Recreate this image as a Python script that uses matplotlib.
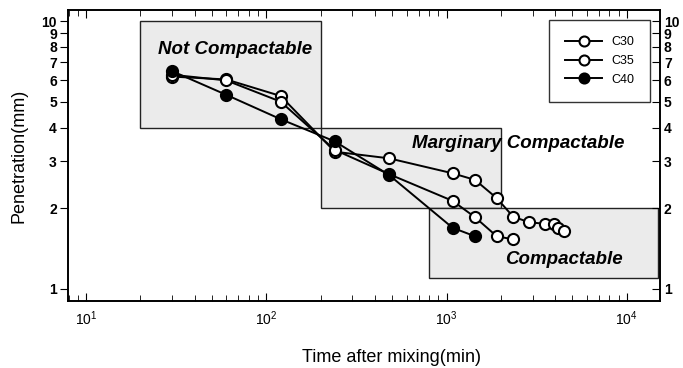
import numpy as np
import matplotlib
matplotlib.use('Agg')
import matplotlib.pyplot as plt
from matplotlib.patches import Rectangle
from matplotlib.ticker import FixedLocator, LogLocator, NullFormatter

plt.rcParams['font.family'] = ['Liberation Sans', 'DejaVu Sans']

# data
t_c30 = [30, 60, 120, 240, 480, 1080, 1440, 1900, 2340, 2880, 3500, 3950, 4150, 4500]
p_c30 = [6.2, 6.05, 5.25, 3.25, 3.07, 2.7, 2.55, 2.18, 1.86, 1.77, 1.75, 1.74, 1.69, 1.65]
t_c35 = [30, 60, 120, 240, 480, 1080, 1440, 1900, 2340]
p_c35 = [6.3, 6.0, 5.0, 3.3, 2.68, 2.13, 1.85, 1.57, 1.53]
t_c40 = [30, 60, 120, 240, 480, 1080, 1440]
p_c40 = [6.5, 5.3, 4.3, 3.55, 2.66, 1.69, 1.57]

# zones: (t0, t1, p0, p1)
zones = [(20, 200, 4, 10), (200, 2000, 2, 4), (800, 15000, 1.1, 2)]
zone_labels = ['Not Compactable', 'Marginary Compactable', 'Compactable']
label_pos = [(67, 7.8), (2500, 3.5), (4500, 1.29)]
yt = [1, 2, 3, 4, 5, 6, 7, 8, 9, 10]

fig = plt.figure(figsize=(6.83, 3.68), dpi=100)
ax = fig.add_axes([0.0996, 0.182, 0.8664, 0.791])

for (t0, t1, p0, p1) in zones:
    ax.add_patch(Rectangle((t0, p0), t1 - t0, p1 - p0, facecolor='#ebebeb',
                           edgecolor='#222222', lw=1.0, zorder=1))
for txt, (tx, ty) in zip(zone_labels, label_pos):
    ax.text(tx, ty, txt, ha='center', va='center', fontsize=13.5,
            fontweight='bold', fontstyle='italic', zorder=5)

mk = dict(color='black', lw=1.4, markersize=8, markeredgewidth=1.5, zorder=3)
ax.plot(t_c30, p_c30, 'o-', markerfacecolor='white', label='C30', **mk)
ax.plot(t_c35, p_c35, 'o-', markerfacecolor='white', label='C35', **mk)
ax.plot(t_c40, p_c40, 'o-', markerfacecolor='black', label='C40', **mk)

ax.set_xscale('log')
ax.set_yscale('log')
ax.set_xlim(7.94, 15250)
ax.set_ylim(0.9, 11)

ax.yaxis.set_major_locator(FixedLocator(yt))
ax.yaxis.set_minor_locator(FixedLocator([]))
ax.set_yticks(yt)
ax.set_yticklabels([str(v) for v in yt])
ax.tick_params(axis='y', which='major', direction='out', length=6, labelsize=10, pad=2)
for lab in ax.get_yticklabels():
    lab.set_fontweight('bold')

# right hand axis, ticks pointing in
ax2 = ax.twinx()
ax2.set_yscale('log')
ax2.set_ylim(ax.get_ylim())
ax2.yaxis.set_major_locator(FixedLocator(yt))
ax2.yaxis.set_minor_locator(FixedLocator([]))
ax2.set_yticks(yt)
ax2.set_yticklabels([str(v) for v in yt])
ax2.tick_params(axis='y', which='major', direction='in', length=6, labelsize=10, pad=3)
for lab in ax2.get_yticklabels():
    lab.set_fontweight('bold')

ax.xaxis.set_major_locator(LogLocator(base=10))
ax.xaxis.set_minor_locator(LogLocator(base=10, subs=np.arange(2, 10)))
ax.xaxis.set_minor_formatter(NullFormatter())
ax.tick_params(axis='x', which='both', direction='in', top=True, labelsize=10, pad=6)
ax.tick_params(axis='x', which='major', length=6)
ax.tick_params(axis='x', which='minor', length=4)

for a in (ax, ax2):
    for s in a.spines.values():
        s.set_linewidth(1.2)

ax.set_xlabel('Time after mixing(min)', fontsize=13, labelpad=14)
ax.xaxis.set_label_coords(0.547, -0.165)
ax.set_ylabel('Penetration(mm)', fontsize=13)
ax.yaxis.set_label_coords(-0.068, 0.5)

ax.legend(loc='upper right', fontsize=9, frameon=True, fancybox=False,
          edgecolor='black', borderpad=1.3, handlelength=3.0, handletextpad=0.7,
          labelspacing=0.55, borderaxespad=0.0,
          bbox_to_anchor=(0.984, 0.966), markerscale=0.9).set_zorder(6)

plt.savefig('out.png', dpi=100)
